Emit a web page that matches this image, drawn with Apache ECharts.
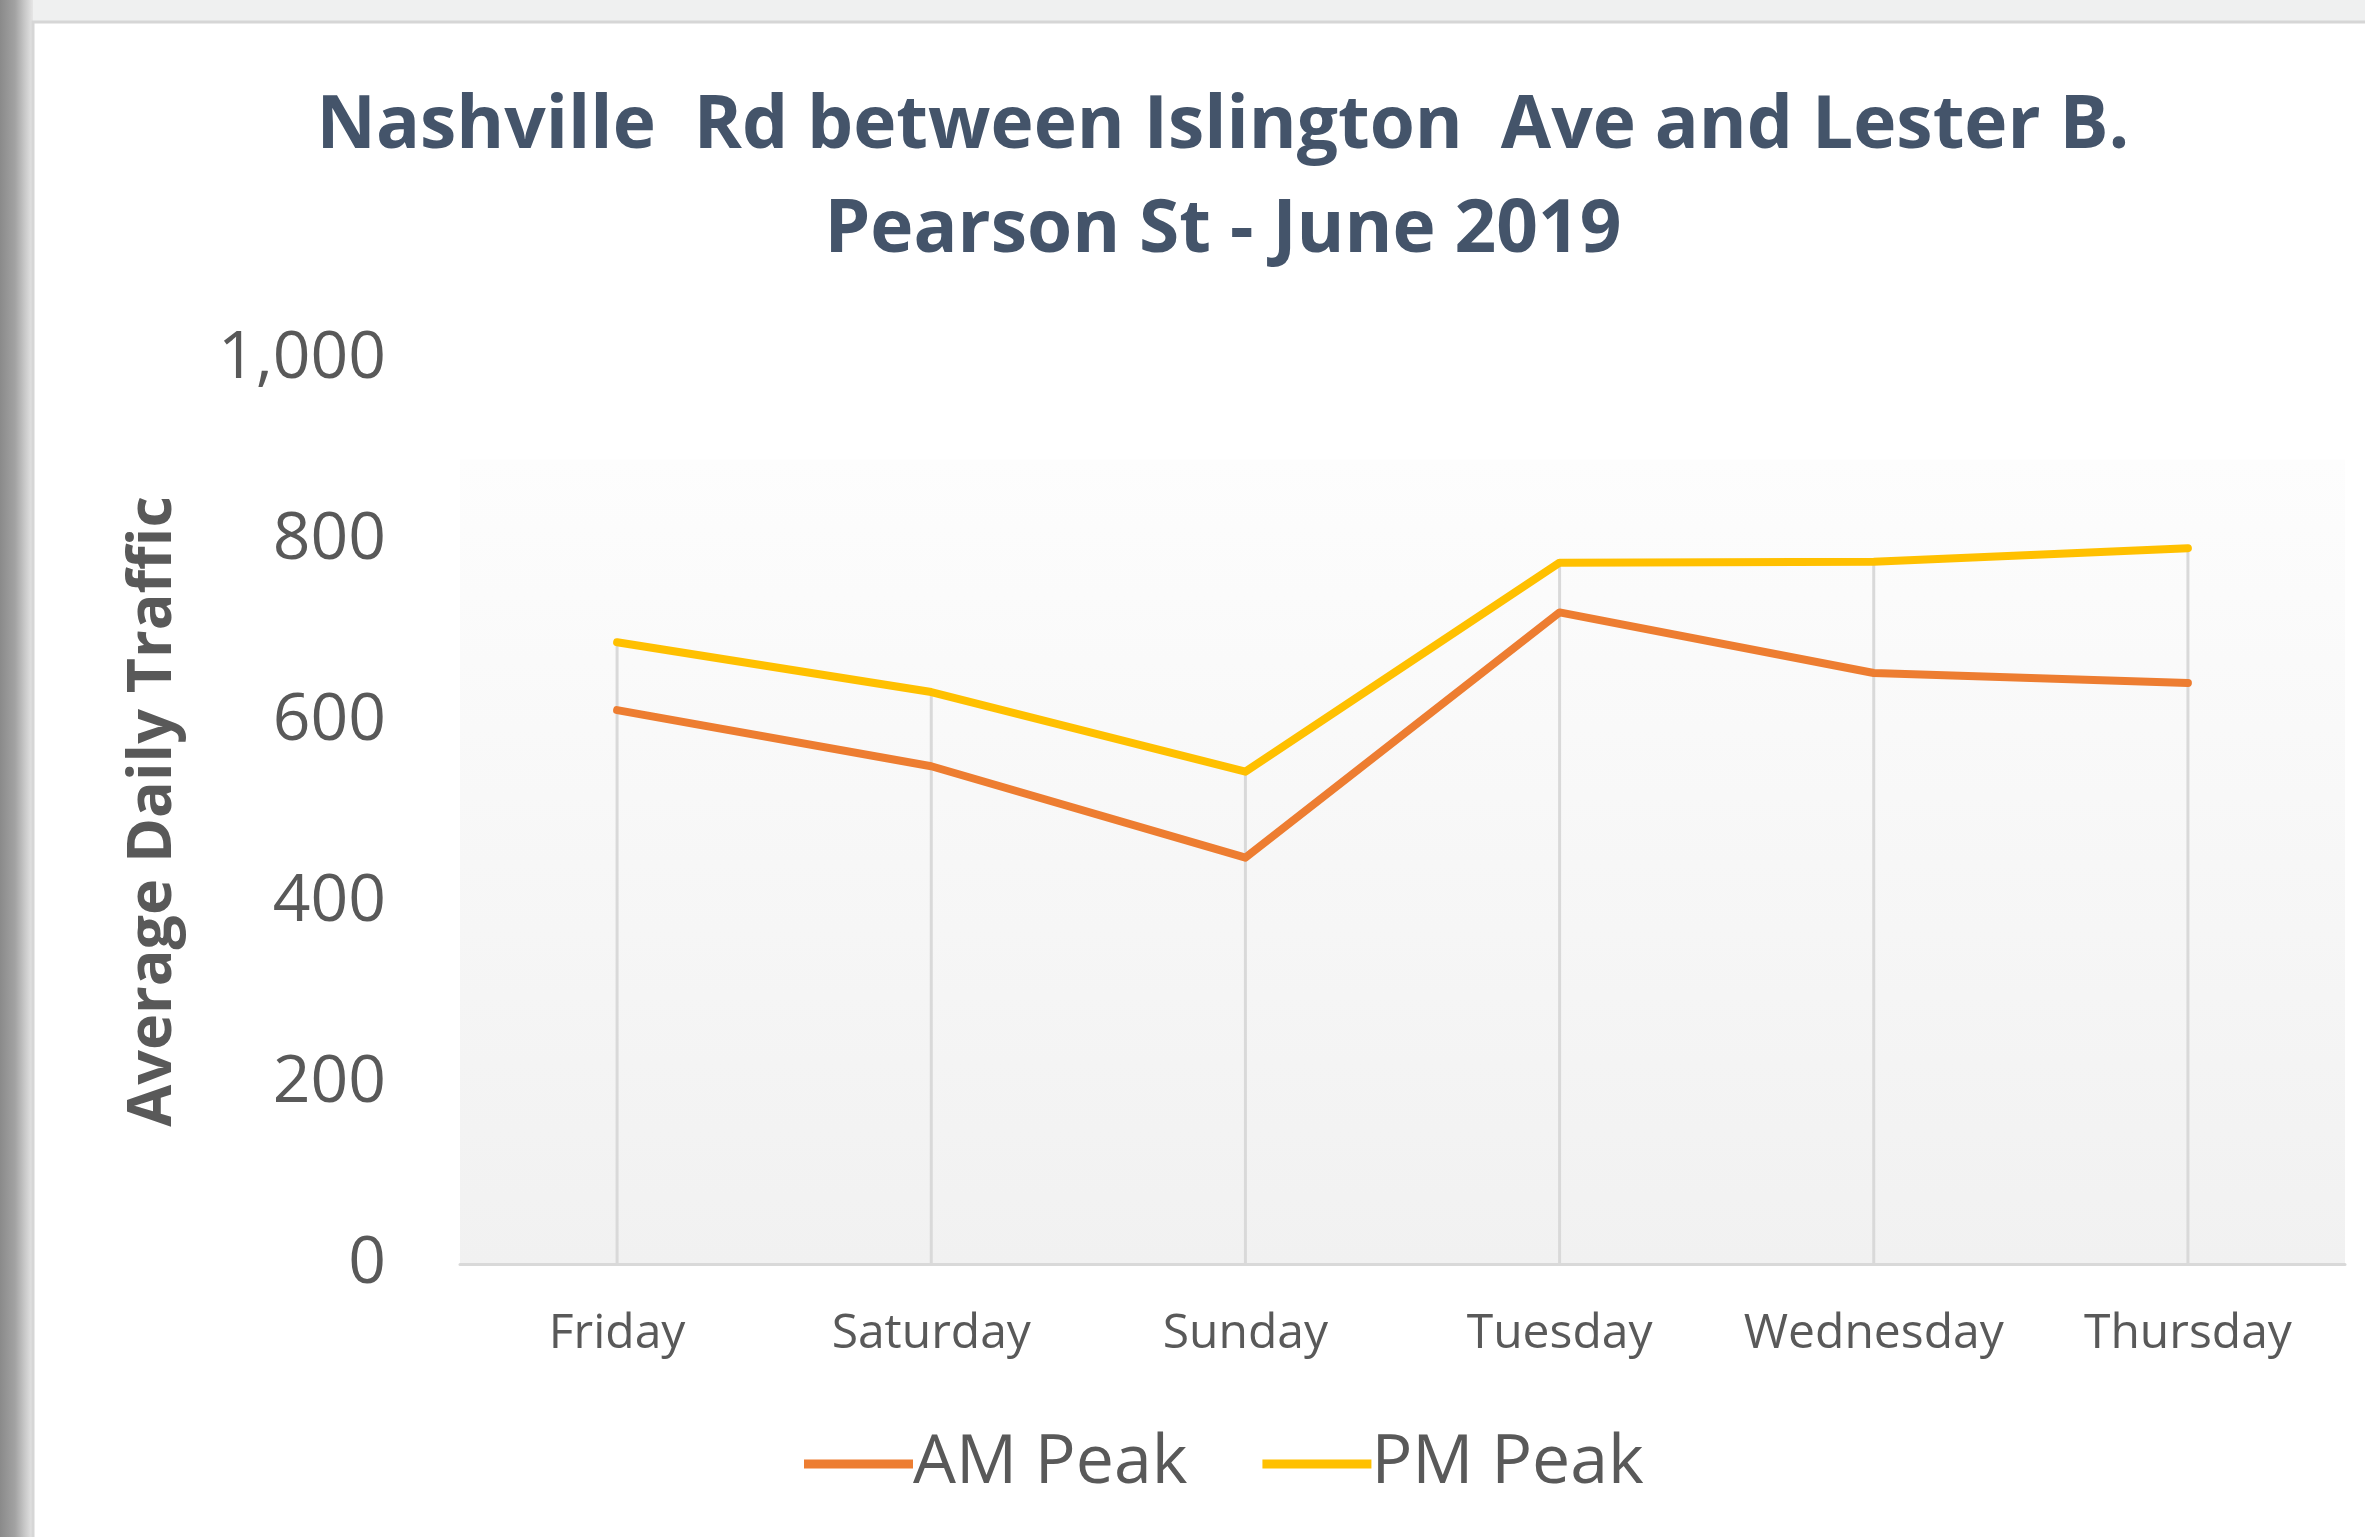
<!DOCTYPE html>
<html>
<head>
<meta charset="utf-8">
<title>Nashville Rd traffic</title>
<script src="https://cdn.jsdelivr.net/npm/echarts@6/dist/echarts.min.js"></script>
<style>
  html, body { margin: 0; padding: 0; background: #fff; }
  #chart { width: 2365px; height: 1537px; }
</style>
</head>
<body>
<div id="chart"></div>
<script>
// data
var days = ['Friday', 'Saturday', 'Sunday', 'Tuesday', 'Wednesday', 'Thursday'];
var amPeak = [612, 550, 449, 720, 653, 642];
var pmPeak = [687, 632, 544, 775, 776, 791];
var yTicks = [0, 200, 400, 600, 800, 1000];

var chartTitle = 'Nashville  Rd between Islington  Ave and Lester B.\nPearson St - June 2019';

var myChart = echarts.init(document.getElementById('chart'));
var option = {
  backgroundColor: '#fff',
  graphic: [
    // page behind the chart card
    { type: 'rect', z: -10, shape: { x: 0, y: 0, width: 2365, height: 22 }, style: { fill: '#eff0f0' } },
    { type: 'rect', z: -10, shape: { x: 0, y: 0, width: 33, height: 1537 },
      style: { fill: new echarts.graphic.LinearGradient(0, 0, 1, 0, [
        { offset: 0, color: '#8a8a8a' }, { offset: 0.45, color: '#a2a2a2' },
        { offset: 0.75, color: '#c8c8c8' }, { offset: 1, color: '#e6e6e6' }]) } },
    { type: 'rect', z: -9, shape: { x: 33, y: 22, width: 2340, height: 1530 },
      style: { fill: '#fff', stroke: '#d6d6d6', lineWidth: 3 } }
  ],
  title: {
    text: chartTitle,
    left: 1218,
    top: 70,
    textAlign: 'center',
    textStyle: {
      fontFamily: 'Open Sans',
      fontWeight: 'bold',
      fontSize: 73,
      lineHeight: 104,
      color: '#44546a'
    }
  },
  legend: {
    data: [
      { name: 'AM Peak', icon: 'rect' },
      { name: 'PM Peak', icon: 'rect' }
    ],
    left: 804,
    top: 1430,
    padding: 0,
    itemWidth: 109,
    itemHeight: 9,
    itemGap: 75,
    textStyle: { fontFamily: 'Open Sans', fontSize: 68, color: '#595959', padding: [0, 0, 0, -5] }
  },
  grid: {
    left: 460,
    right: 20,
    top: 359,
    bottom: 273,
    show: true,
    borderWidth: 0,
    backgroundColor: new echarts.graphic.LinearGradient(0, 0, 0, 1, [
      { offset: 0, color: '#ffffff' },
      { offset: 0.11, color: '#ffffff' },
      { offset: 0.112, color: '#fdfdfd' },
      { offset: 1, color: '#f1f1f1' }
    ])
  },
  xAxis: {
    type: 'category',
    data: days,
    boundaryGap: true,
    axisLine: { lineStyle: { color: '#d9d9d9', width: 3 } },
    axisTick: { show: false },
    splitLine: { show: false },
    axisLabel: { interval: 0, fontFamily: 'Open Sans', fontSize: 48, color: '#595959', margin: 46 }
  },
  yAxis: {
    type: 'value',
    min: yTicks[0],
    max: yTicks[yTicks.length - 1],
    interval: yTicks[1] - yTicks[0],
    name: 'Average Daily Traffic',
    nameLocation: 'middle',
    nameRotate: 90,
    nameGap: 276,
    nameTextStyle: { fontFamily: 'Open Sans', fontWeight: 'bold', fontSize: 61, color: '#595959' },
    axisLine: { show: false },
    axisTick: { show: false },
    splitLine: { show: false },
    axisLabel: {
      fontFamily: 'Open Sans', fontSize: 66, color: '#595959', margin: 74,
      formatter: function (v) { return v.toLocaleString('en-US'); }
    }
  },
  series: [
    {
      // drop lines from the top series down to the axis
      name: 'drop',
      type: 'bar',
      data: pmPeak,
      barWidth: 3,
      silent: true,
      z: 1,
      itemStyle: { color: '#d9d9d9' }
    },
    {
      name: 'AM Peak',
      type: 'line',
      data: amPeak,
      showSymbol: false,
      z: 3,
      itemStyle: { color: '#ed7d31' },
      lineStyle: { color: '#ed7d31', width: 8, cap: 'round', join: 'round' }
    },
    {
      name: 'PM Peak',
      type: 'line',
      data: pmPeak,
      showSymbol: false,
      z: 3,
      itemStyle: { color: '#ffc000' },
      lineStyle: { color: '#ffc000', width: 8, cap: 'round', join: 'round' }
    }
  ]
};
myChart.setOption(option);
</script>
</body>
</html>
